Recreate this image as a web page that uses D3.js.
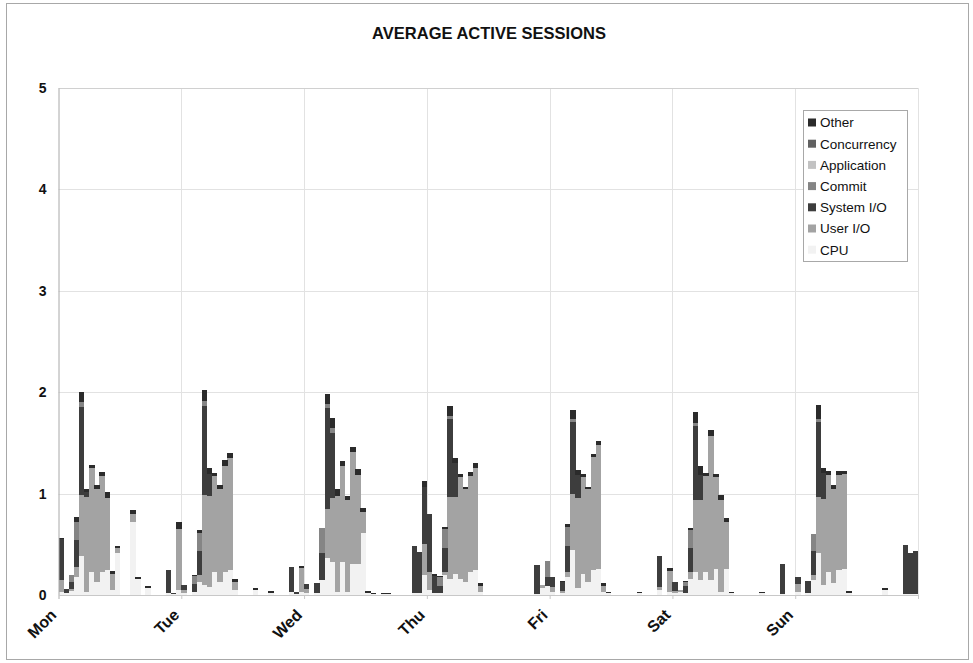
<!DOCTYPE html>
<html>
<head>
<meta charset="utf-8">
<script src="https://cdn.jsdelivr.net/npm/d3@7"></script>
<style>
  html, body { margin: 0; padding: 0; background: #fff; }
  svg { display: block; font-family: "Liberation Sans", Arial, sans-serif; }
</style>
</head>
<body>
<svg id="chart" width="973" height="663"></svg>
<script>
// ---------- DATA ----------
const title = "AVERAGE ACTIVE SESSIONS";
const days = ["Mon", "Tue", "Wed", "Thu", "Fri", "Sat", "Sun"];
const yTicks = [0, 1, 2, 3, 4, 5];
// stacking order bottom -> top
const seriesNames = ["CPU", "User I/O", "System I/O", "Commit", "Application", "Concurrency", "Other"];
const seriesColors = ["#f2f2f2", "#a3a3a3", "#3d3d3d", "#858585", "#c2c2c2", "#616161", "#2b2b2b"];

// hourly values, 24 per day, Mon..Sun
const cpu = [
  .03,.02,.04,.18,.38,.03,.23,.13,.23,.25,.05,.41,0,0,.72,.16,0,.07,0,0,0,.02,.01,.05,
  .02,0,.03,.13,.10,.08,.23,.13,.23,.25,.05,0,0,0,.05,0,0,.02,0,0,0,.03,.01,.03,
  .02,0,.02,.15,.36,.33,.03,.33,.03,.31,.31,.61,.02,.01,0,.01,.01,0,0,0,0,.02,.02,.20,
  .05,.02,.02,.20,.16,.21,.16,.13,.23,.25,.03,0,0,0,0,0,0,0,0,0,0,.01,.07,.09,
  .03,0,.02,.18,.44,.07,.21,.13,.25,.26,.03,.02,0,0,0,0,0,.02,0,0,0,.05,0,.03,
  .02,.03,.02,.16,.23,.15,.23,.15,.26,.03,.26,.02,0,0,0,0,0,.02,0,0,0,.01,0,0,
  .03,0,.02,.15,.41,.10,.23,.12,.25,.26,.02,0,0,0,0,0,0,.05,0,0,0,.01,.01,.01
];
const userIO = [
  .12,0,.02,.10,.61,.94,1.02,.92,.94,.71,.16,.05,0,0,.08,0,0,0,0,0,0,0,0,.60,
  .03,0,0,.07,.89,.90,.94,.92,1.04,1.10,.08,0,0,0,0,0,0,0,0,0,0,0,0,.24,
  .04,0,0,0,.49,.63,.95,.94,.91,1.10,.87,.21,0,0,0,0,0,0,0,0,0,0,0,.30,
  .18,0,0,.03,.81,.76,1.00,.92,.94,1.00,.06,0,0,0,0,0,0,0,0,0,0,0,.03,0,
  .05,0,.02,.05,.56,.89,.95,.92,1.11,1.22,.06,0,0,0,0,0,0,0,0,0,0,.03,0,.21,
  .02,.02,0,.07,.71,.79,.94,1.42,.90,.91,.46,0,0,0,0,0,0,0,0,0,0,0,0,0,
  .08,0,0,.05,.56,.85,.95,.93,.93,.93,0,0,0,0,0,0,0,0,0,0,0,0,0,0
];
const systemIO = [
  .40,.04,.07,.26,.86,.05,0,0,0,0,0,0,0,0,0,0,0,0,0,0,0,.23,.01,0,
  .05,0,.08,.23,.87,.21,0,0,0,0,0,0,0,0,0,0,0,0,0,0,0,.25,.02,0,
  .05,0,.10,.26,.99,.64,0,0,0,0,0,0,0,0,0,0,0,0,0,0,0,.46,.40,.57,
  .57,.17,.07,.23,.77,.33,0,0,0,0,0,0,0,0,0,0,0,0,0,0,0,.29,0,.09,
  .10,0,.09,.25,.71,.22,0,0,0,0,0,0,0,0,0,0,0,0,0,0,0,.30,0,0,
  .09,0,.07,.23,.73,.24,0,0,0,0,0,0,0,0,0,0,0,0,0,0,0,.30,0,0,
  .07,0,.12,.23,.74,.25,0,0,0,0,0,0,0,0,0,0,0,0,0,0,0,.48,.40,.42
];
const commit = [
  0,0,.07,.18,.05,0,0,0,0,0,0,0,0,0,0,0,0,0,0,0,0,0,0,0,
  0,0,.08,.18,.05,0,0,0,0,0,0,0,0,0,0,0,0,0,0,0,0,0,0,0,
  0,0,0,.25,.04,.05,0,0,0,0,0,0,0,0,0,0,0,0,0,0,0,0,0,0,
  0,0,.09,.19,.03,0,0,0,0,0,0,0,0,0,0,0,0,0,0,0,0,0,0,.16,
  0,0,0,.19,.03,0,0,0,0,0,0,0,0,0,0,0,0,0,0,0,0,0,0,0,
  0,0,.04,.18,.03,0,0,0,0,0,0,0,0,0,0,0,0,0,0,0,0,0,0,0,
  0,0,0,.17,.03,0,0,0,0,0,0,0,0,0,0,0,0,0,0,0,0,0,0,0
];
const application = [
  0,0,0,0,0,0,0,0,0,0,0,0,0,0,0,0,0,0,0,0,0,0,0,0,
  0,0,0,0,0,0,0,0,0,0,0,0,0,0,0,0,0,0,0,0,0,0,0,0,
  0,0,0,0,0,0,0,0,0,0,0,0,0,0,0,0,0,0,0,0,0,0,0,0,
  0,0,0,0,0,0,0,0,0,0,0,0,0,0,0,0,0,0,0,0,0,0,0,0,
  0,0,0,0,0,0,0,0,0,0,0,0,0,0,0,0,0,0,0,0,0,0,0,0,
  0,0,0,0,0,0,0,0,0,0,0,0,0,0,0,0,0,0,0,0,0,0,0,0,
  0,0,0,0,0,0,0,0,0,0,0,0,0,0,0,0,0,0,0,0,0,0,0,0
];
const concurrency = [
  0,0,0,0,0,0,0,0,0,0,0,0,0,0,0,0,0,0,0,0,0,0,0,0,
  0,0,0,0,0,0,0,0,0,0,0,0,0,0,0,0,0,0,0,0,0,0,0,0,
  0,0,0,0,0,0,0,0,0,0,0,0,0,0,0,0,0,0,0,0,0,0,0,0,
  0,0,0,0,0,0,0,0,0,0,0,0,0,0,0,0,0,0,0,0,0,0,0,0,
  0,0,0,0,0,0,0,0,0,0,0,0,0,0,0,0,0,0,0,0,0,0,0,0,
  0,0,0,0,0,0,0,0,0,0,0,0,0,0,0,0,0,0,0,0,0,0,0,0,
  0,0,0,0,0,0,0,0,0,0,0,0,0,0,0,0,0,0,0,0,0,0,0,0
];
const other = [
  .01,0,0,.05,.10,.03,.03,.03,.04,.06,.03,.02,0,0,.04,.02,0,.02,0,0,0,0,0,.07,
  0,0,.01,.03,.11,.06,.03,.03,.06,.05,.03,0,0,0,.02,0,0,.02,0,0,0,0,0,.02,
  0,0,0,0,.10,.10,.07,.05,.04,.05,.06,.04,.02,.01,0,.01,.01,0,0,0,0,0,0,.05,
  0,.02,.01,.02,.09,.05,.03,.02,.04,.05,.03,0,0,0,0,0,0,0,0,0,0,0,0,0,
  0,0,.01,.03,.08,.05,.03,.02,.03,.04,.03,.01,0,0,0,0,0,.01,0,0,0,0,0,.03,
  0,0,.01,.02,.10,.09,.03,.06,.03,.05,.04,.01,0,0,0,0,0,.01,0,0,0,0,0,0,
  0,0,0,0,.13,.05,.04,.03,.04,.03,.02,0,0,0,0,0,0,.02,0,0,0,0,0,0
];
const seriesValues = [cpu, userIO, systemIO, commit, application, concurrency, other];

// ---------- LAYOUT ----------
const W = 973, H = 663;
const plot = { left: 58.5, right: 918, top: 88, bottom: 595 };

const rows = d3.range(cpu.length).map(i => {
  const r = { idx: i };
  seriesNames.forEach((s, k) => r[s] = seriesValues[k][i]);
  return r;
});
const stacked = d3.stack().keys(seriesNames)(rows);

const svg = d3.select("#chart");
svg.append("rect").attr("width", W).attr("height", H).attr("fill", "#fff");

const x = d3.scaleBand().domain(d3.range(rows.length)).range([plot.left, plot.right]).paddingInner(0).paddingOuter(0);
const xDay = d3.scaleLinear().domain([0, days.length]).range([plot.left, plot.right]);
const y = d3.scaleLinear().domain([0, 5]).range([plot.bottom, plot.top]);

// gridlines
const grid = svg.append("g");
grid.selectAll("line.h").data(yTicks.filter(v => v > 0)).join("line")
  .attr("x1", plot.left).attr("x2", plot.right)
  .attr("y1", d => Math.round(y(d)) + 0.5).attr("y2", d => Math.round(y(d)) + 0.5)
  .attr("stroke", "#e2e2e2").attr("stroke-width", 1);
grid.selectAll("line.v").data(d3.range(1, days.length + 1)).join("line")
  .attr("x1", d => Math.round(xDay(d)) + 0.5).attr("x2", d => Math.round(xDay(d)) + 0.5)
  .attr("y1", plot.top).attr("y2", plot.bottom)
  .attr("stroke", "#e2e2e2").attr("stroke-width", 1);

// bars
const barsG = svg.append("g").attr("shape-rendering", "crispEdges");
stacked.forEach((layer, k) => {
  barsG.append("g").attr("fill", seriesColors[k])
    .selectAll("rect").data(layer.filter(d => d[1] - d[0] > 0)).join("rect")
    .attr("x", d => x(d.data.idx))
    .attr("width", x.bandwidth() + 0.3)
    .attr("y", d => y(d[1]))
    .attr("height", d => y(d[0]) - y(d[1]));
});

// plot frame top
svg.append("line").attr("x1", plot.left).attr("x2", plot.right)
  .attr("y1", plot.top + 0.5).attr("y2", plot.top + 0.5).attr("stroke", "#d0d0d0");

// y axis
const yAxis = svg.append("g").attr("transform", `translate(${plot.left},0)`)
  .call(d3.axisLeft(y).tickValues(yTicks).tickSize(0).tickPadding(12).tickFormat(d3.format("d")));
yAxis.select(".domain").attr("stroke", "#a8a8a8");
yAxis.selectAll("text").attr("font-size", 14).attr("font-weight", "bold").attr("fill", "#111")
  .attr("font-family", "'Liberation Sans', Arial, sans-serif");

// x axis
const xAxis = svg.append("g").attr("transform", `translate(0,${plot.bottom})`)
  .call(d3.axisBottom(xDay).tickValues(d3.range(days.length + 1)).tickSize(4).tickFormat(""));
xAxis.select(".domain").attr("stroke", "#c8c8c8");
xAxis.selectAll(".tick line").attr("stroke", "#c8c8c8");

svg.append("g").selectAll("text").data(days).join("text")
  .attr("transform", (d, i) => `translate(${xDay(i) - 1},${plot.bottom + 21}) rotate(-45)`)
  .attr("text-anchor", "end")
  .attr("font-size", 16).attr("font-weight", "bold").attr("fill", "#111")
  .text(d => d);

// title
svg.append("text").attr("x", 489).attr("y", 38.5).attr("text-anchor", "middle")
  .attr("font-size", 16.5).attr("font-weight", "bold").attr("fill", "#111")
  .text(title);

// legend (reverse order: Other on top)
const legend = svg.append("g");
legend.append("rect").attr("x", 803.5).attr("y", 110.5).attr("width", 104).attr("height", 151)
  .attr("fill", "#fff").attr("stroke", "#a8a8a8");
const legendItems = seriesNames.map((s, k) => ({ name: s, color: seriesColors[k] })).reverse();
const li = legend.selectAll("g.item").data(legendItems).join("g")
  .attr("transform", (d, i) => `translate(808,${122.5 + i * 21.2})`);
li.append("rect").attr("x", 0).attr("y", -4).attr("width", 8).attr("height", 8).attr("fill", d => d.color);
li.append("text").attr("x", 12).attr("y", 0).attr("dy", "0.36em")
  .attr("font-size", 13.5).attr("fill", "#111").text(d => d.name);

// outer border
svg.append("rect").attr("x", 6.5).attr("y", 3.5).attr("width", 962).attr("height", 656)
  .attr("fill", "none").attr("stroke", "#a8a8a8");
</script>
</body>
</html>
